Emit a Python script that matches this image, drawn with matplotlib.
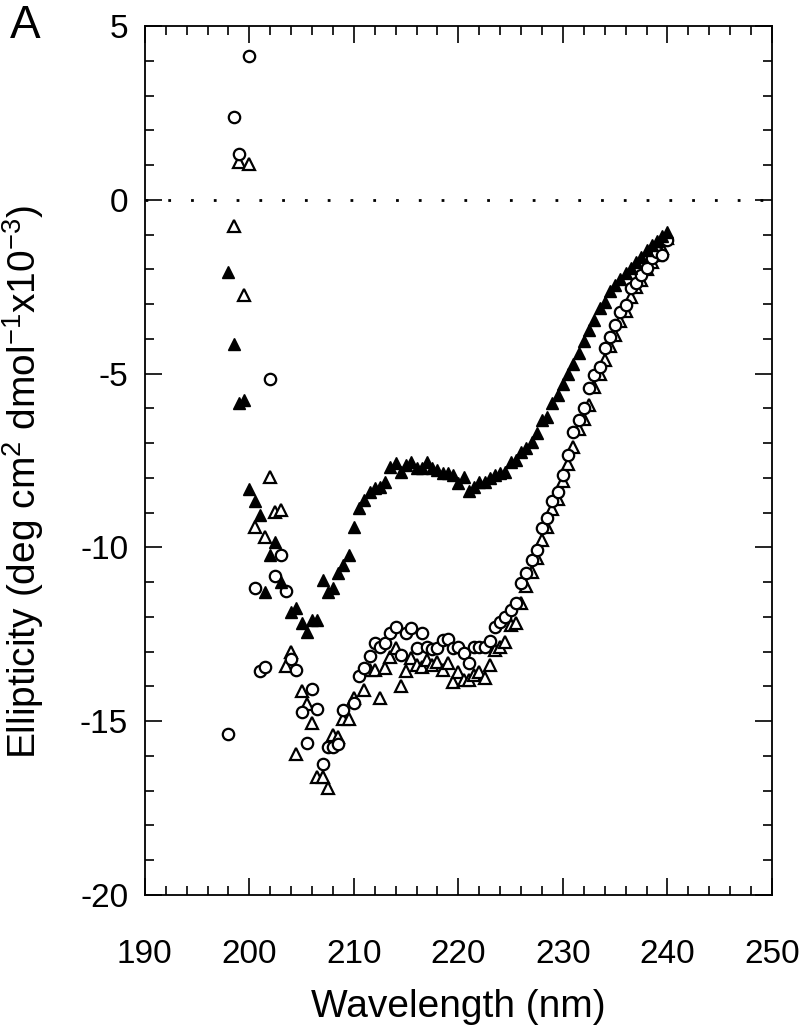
import numpy as np
import matplotlib
matplotlib.use("Agg")
import matplotlib.pyplot as plt
from matplotlib.ticker import MultipleLocator

plt.rcParams['font.family'] = ['Liberation Sans', 'DejaVu Sans']
plt.rcParams['mathtext.fontset'] = 'custom'
plt.rcParams['mathtext.rm'] = 'Liberation Sans'
plt.rcParams['mathtext.it'] = 'Liberation Sans:italic'
plt.rcParams['axes.unicode_minus'] = False

# ---- data (wavelength nm, ellipticity x10^-3) ----
filled_wl = [198.0, 198.5, 199.0, 199.5, 200.0, 200.5, 201.0, 201.5, 202.0, 202.5,
             203.0, 204.0, 204.5, 205.0, 205.5, 206.0, 206.5, 207.0, 207.5, 208.0,
             208.5, 209.0, 209.5, 210.0, 210.5, 211.0, 211.5, 212.0, 212.5, 213.0,
             213.5, 214.0, 214.5, 215.0, 215.5, 216.0, 216.5, 217.0, 217.5, 218.0,
             218.5, 219.0, 219.5, 220.0, 220.5, 221.0, 221.5, 222.0, 222.5, 223.0,
             223.5, 224.0, 224.5, 225.0, 225.5, 226.0, 226.5, 227.0, 227.5, 228.0,
             228.5, 229.0, 229.5, 230.0, 230.5, 231.0, 231.5, 232.0, 232.5, 233.0,
             233.5, 234.0, 234.5, 235.0, 235.5, 236.0, 236.5, 237.0, 237.5, 238.0,
             238.5, 239.0, 239.5, 240.0]
filled_val = [-2.07, -4.15, -5.85, -5.76, -8.33, -8.66, -9.07, -11.29, -10.22, -9.84,
              -11.00, -11.87, -11.74, -12.18, -12.43, -12.09, -12.09, -10.94, -11.27, -11.18,
              -10.74, -10.50, -10.22, -9.42, -8.88, -8.64, -8.40, -8.30, -8.25, -8.11,
              -7.68, -7.58, -7.82, -7.63, -7.53, -7.72, -7.72, -7.53, -7.72, -7.77,
              -7.87, -7.87, -7.92, -8.16, -7.97, -8.38, -8.25, -8.11, -8.11, -8.01,
              -7.92, -7.87, -7.82, -7.53, -7.49, -7.25, -7.15, -6.96, -6.72, -6.33,
              -6.24, -5.85, -5.62, -5.30, -5.00, -4.72, -4.40, -4.05, -3.75, -3.45,
              -3.12, -2.93, -2.62, -2.45, -2.28, -2.10, -1.95, -1.80, -1.65, -1.45,
              -1.30, -1.18, -1.05, -0.93]

circle_wl = [198.0, 198.5, 199.0, 200.0, 200.5, 201.0, 201.5, 202.0, 202.5, 203.0,
             203.5, 204.0, 204.5, 205.0, 205.5, 206.0, 206.5, 207.0, 207.5, 208.0,
             208.5, 209.0, 210.0, 210.5, 211.0, 211.5, 212.0, 212.5, 213.0, 213.5,
             214.0, 214.5, 215.0, 215.5, 216.0, 216.5, 217.0, 217.5, 218.0, 218.5,
             219.0, 219.5, 220.0, 220.5, 221.0, 221.5, 222.0, 222.5, 223.0, 223.5,
             224.0, 224.5, 225.0, 225.5, 226.0, 226.5, 227.0, 227.5, 228.0, 228.5,
             229.0, 229.5, 230.0, 230.5, 231.0, 231.5, 232.0, 232.5, 233.0, 233.5,
             234.0, 234.5, 235.0, 235.5, 236.0, 236.5, 237.0, 237.5, 238.0, 238.5,
             239.0, 239.5, 240.0]
circle_val = [-15.38, 2.39, 1.32, 4.15, -11.16, -13.56, -13.43, -5.16, -10.81, -10.22,
              -11.25, -13.22, -13.53, -14.73, -15.64, -14.08, -14.66, -16.23, -15.73, -15.73,
              -15.66, -14.68, -14.49, -13.70, -13.48, -13.12, -12.76, -12.86, -12.76, -12.47,
              -12.28, -13.10, -12.47, -12.33, -12.90, -12.47, -12.86, -12.93, -12.90, -12.66,
              -12.64, -12.90, -12.86, -13.05, -13.32, -12.86, -12.86, -12.86, -12.68, -12.28,
              -12.14, -11.99, -11.80, -11.61, -11.03, -10.75, -10.36, -10.07, -9.45, -9.16,
              -8.68, -8.40, -7.92, -7.34, -6.67, -6.33, -6.00, -5.42, -5.05, -4.80,
              -4.27, -3.94, -3.60, -3.22, -3.03, -2.55, -2.40, -2.16, -1.97, -1.68,
              -1.49, -1.59, -1.16]

opentri_wl = [198.5, 199.0, 199.5, 200.0, 200.5, 201.5, 202.0, 202.5, 203.0, 203.5,
              204.0, 204.5, 205.0, 205.5, 206.0, 206.5, 207.0, 207.5, 208.0, 208.5,
              209.0, 209.5, 210.0, 211.0, 211.5, 212.0, 212.5, 213.0, 213.5, 214.0,
              214.5, 215.0, 215.5, 216.0, 216.5, 217.0, 217.5, 218.0, 218.5, 219.0,
              219.5, 220.0, 220.5, 221.0, 221.5, 222.0, 222.5, 223.0, 223.5, 224.0,
              224.5, 225.0, 225.5, 226.0, 226.5, 227.0, 227.5, 228.0, 228.5, 229.0,
              229.5, 230.0, 230.5, 231.0, 231.5, 232.0, 232.5, 233.0, 233.5, 234.0,
              234.5, 235.0, 235.5, 236.0, 236.5, 237.0, 237.5, 238.0, 238.5, 239.0,
              239.5, 240.0]
opentri_val = [-0.75, 1.08, -2.74, 1.03, -9.41, -9.70, -7.98, -8.97, -8.92, -13.40,
               -13.00, -15.94, -14.12, -14.51, -15.04, -16.62, -16.60, -16.93, -15.40, -15.45,
               -14.93, -14.93, -14.34, -14.10, -13.53, -13.53, -14.34, -13.48, -13.14, -12.90,
               -14.00, -13.55, -13.19, -13.38, -13.43, -13.24, -13.38, -13.29, -13.53, -13.34,
               -13.87, -13.58, -13.82, -13.82, -13.67, -13.58, -13.77, -13.38, -12.95, -12.86,
               -12.71, -12.23, -12.18, -11.61, -11.10, -10.70, -10.30, -9.80, -9.40, -8.90,
               -8.60, -8.10, -7.60, -7.10, -6.60, -6.30, -5.90, -5.40, -5.00, -4.60,
               -4.20, -3.90, -3.50, -3.20, -2.80, -2.50, -2.30, -2.00, -1.80, -1.60,
               -1.40, -1.10]

xticks = [190, 200, 210, 220, 230, 240, 250]
yticks = [-20, -15, -10, -5, 0, 5]

fig = plt.figure(figsize=(8.0, 10.32), dpi=100)
ax = fig.add_axes([0.181, 0.1328, 0.784, 0.842])

ax.axhline(0, color='black', lw=2.0, linestyle=(0, (1, 7.2)), zorder=1)

ax.plot(opentri_wl, opentri_val, linestyle='none', marker='^', ms=8.5,
        mfc='white', mec='black', mew=1.6, zorder=3)
ax.plot(circle_wl, circle_val, linestyle='none', marker='o', ms=8.2,
        mfc='white', mec='black', mew=1.6, zorder=4)
ax.plot(filled_wl, filled_val, linestyle='none', marker='^', ms=8.5,
        mfc='black', mec='black', mew=1.0, zorder=5)

ax.set_xlim(190, 250)
ax.set_ylim(-20, 5)
ax.set_xticks(xticks)
ax.set_yticks(yticks)
ax.set_xticklabels([str(t) for t in xticks])
ax.set_yticklabels([str(t) for t in yticks])
ax.xaxis.set_minor_locator(MultipleLocator(2))
ax.yaxis.set_minor_locator(MultipleLocator(1))
ax.tick_params(which='both', direction='in', top=True, right=True, width=1.2)
ax.tick_params(which='major', length=12, labelsize=24)
ax.tick_params(which='minor', length=6.5)
ax.tick_params(axis='x', which='major', pad=32)
ax.tick_params(axis='y', which='major', pad=12)
for s in ax.spines.values():
    s.set_linewidth(1.3)

ax.set_xlabel('Wavelength (nm)', fontsize=28)
ax.xaxis.set_label_coords(0.5, -0.108)
ax.set_ylabel('Ellipticity (deg cm$^2$ dmol$^{-1}$x10$^{-3}$)', fontsize=28)
ax.yaxis.set_label_coords(-0.158, 0.475)

fig.text(0.012, 0.996, 'A', fontsize=33, va='top', ha='left')

fig.savefig('out.png', dpi=100)
